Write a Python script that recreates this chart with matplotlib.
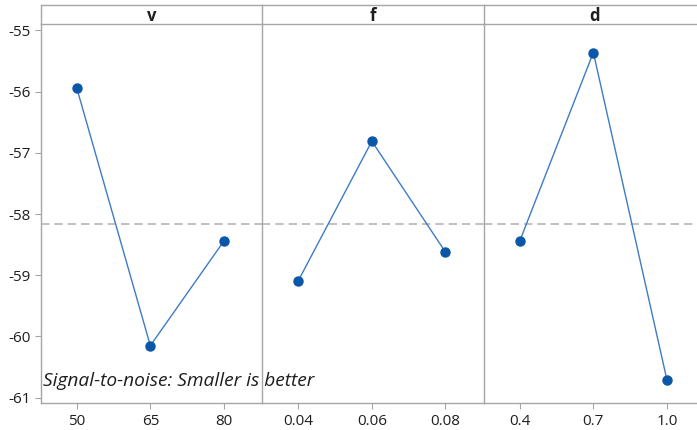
import matplotlib
matplotlib.use("Agg")
import matplotlib.pyplot as plt
from matplotlib.ticker import FixedLocator

plt.rcParams['font.family'] = ['Open Sans', 'DejaVu Sans']

factors = ["v", "f", "d"]
levels = [["50", "65", "80"], ["0.04", "0.06", "0.08"], ["0.4", "0.7", "1.0"]]
sn_means = [
    [-55.94, -60.15, -58.44],
    [-59.09, -56.81, -58.62],
    [-58.44, -55.36, -60.71],
]
grand_mean = -58.17
y_ticks = [-55, -56, -57, -58, -59, -60, -61]

W, H = 697, 430
fig = plt.figure(figsize=(W / 100, H / 100), dpi=100)

left_px, top_px, bottom_px = 40.7, 23.5, 403.0
panel_w = 221.5
header_top = 5.0
grey = "#a6a6a6"
marker_c = "#0a57a8"
line_c = "#3d7cc4"
text_c = "#1e1e1e"

def fx(px):
    return px / W

def fy(py):
    return 1 - py / H

for i, name in enumerate(factors):
    x0 = left_px + i * panel_w
    ax = fig.add_axes([fx(x0), fy(bottom_px), panel_w / W, (bottom_px - top_px) / H])
    ax.patch.set_alpha(0)
    xs = [1, 2, 3]
    ax.plot(xs, sn_means[i], color=line_c, lw=1.0, zorder=3)
    ax.plot(xs, sn_means[i], 'o', color=marker_c, ms=6.5, zorder=4)
    ax.axhline(grand_mean, color="#b5b5b5", lw=1.2, ls=(0, (5, 3)), zorder=2)
    ax.set_xlim(0.51, 3.52)
    ax.set_ylim(-61.087, -54.886)
    ax.set_xticks(xs)
    ax.set_xticklabels(levels[i])
    ax.tick_params(axis='x', length=4, color=grey, labelsize=11, labelcolor=text_c, pad=4)
    for s in ax.spines.values():
        s.set_color(grey)
        s.set_linewidth(1.0)
    ax.spines['top'].set_visible(False)
    ax.spines['right'].set_visible(False)
    if i == 0:
        ax.yaxis.set_major_locator(FixedLocator(y_ticks))
        ax.set_yticklabels([str(t) for t in y_ticks])
        ax.tick_params(axis='y', length=4, color=grey, labelsize=11, labelcolor=text_c, pad=3)
    else:
        ax.tick_params(axis='y', left=False, labelleft=False)

    # factor header strip
    hx = fig.add_axes([fx(x0), fy(top_px), panel_w / W, (top_px - header_top) / H])
    hx.set_xticks([])
    hx.set_yticks([])
    for s in hx.spines.values():
        s.set_color(grey)
        s.set_linewidth(1.0)
    hx.spines['right'].set_visible(False)
    hx.text(0.5, 0.42, name, ha='center', va='center', fontsize=12, fontweight='bold',
            color=text_c, transform=hx.transAxes)

fig.text(fx(43), fy(386), "Signal-to-noise: Smaller is better", style='italic',
         fontsize=13.8, color=text_c, ha='left', va='baseline', zorder=10)

fig.savefig("out.png", dpi=100)
